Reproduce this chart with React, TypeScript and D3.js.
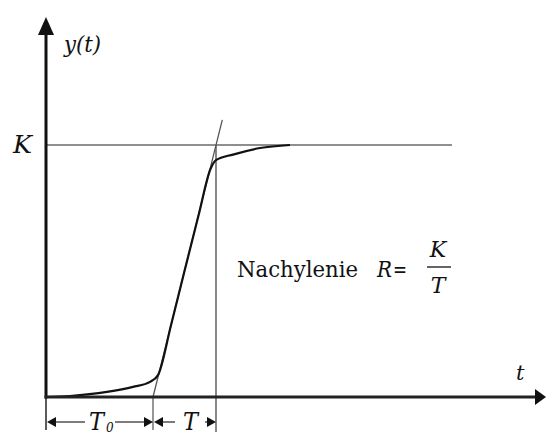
import React from "react";
import * as d3 from "d3";

// Step response of a first-order lag with dead time (normalised: K = 1)
const gainK = 1;
const deadTimeT0 = 2.14;
const timeConstT = 1.26;
const tMax = 10;

// Response curve samples [t, y]
const responseT = [0, 0.48, 1.22, 1.74, 2.08, 2.24, 2.5, 2.77, 3.05, 3.29, 3.4, 3.74, 4.28, 4.88];
const responseY = [0, 0.004, 0.02, 0.04, 0.06, 0.087, 0.285, 0.5, 0.72, 0.905, 0.94, 0.962, 0.988, 1.0];

const kLineEnd = 8.12; // t where the K reference line stops
const tangentTop = 1.1; // y value where the tangent line stops

const W = 546;
const H = 436;

const serif = '"DejaVu Serif", serif';

export default function App() {
  const x = d3.scaleLinear().domain([0, tMax]).range([46, 546]);
  const y = d3.scaleLinear().domain([0, gainK]).range([397, 145]);

  const pts: [number, number][] = responseT.map((t, i) => [t, responseY[i]]);
  const line = d3
    .line<[number, number]>()
    .x((d) => x(d[0]))
    .y((d) => y(d[1]))
    .curve(d3.curveMonotoneX);

  const x0 = x(0);
  const xT0 = x(deadTimeT0);
  const xT = x(deadTimeT0 + timeConstT);
  const tangentAt = (v: number) => x(deadTimeT0 + v * timeConstT);

  const dimY = 422;

  const arrowL = (tip: number) => `M${tip},${dimY} L${tip + 9},${dimY - 5} L${tip + 9},${dimY + 5} Z`;
  const arrowR = (tip: number) => `M${tip},${dimY} L${tip - 9},${dimY - 5} L${tip - 9},${dimY + 5} Z`;

  const txt = (size: number, italic = false): React.CSSProperties => ({
    fontFamily: serif,
    fontSize: size,
    fontStyle: italic ? "italic" : "normal",
  });

  return (
    <svg
      width={W}
      height={H}
      style={{ position: "absolute", left: 0, top: 0, background: "#fff" }}
    >
      {/* K reference line */}
      <line x1={x0} x2={x(kLineEnd)} y1={y(gainK)} y2={y(gainK)} stroke="#6a6a6a" strokeWidth={1.6} />
      {/* vertical at T0 + T */}
      <line x1={xT} x2={xT} y1={y(gainK)} y2={432} stroke="#6a6a6a" strokeWidth={1.6} />
      {/* tick at T0 */}
      <line x1={xT0} x2={xT0} y1={y(0)} y2={430} stroke="#6a6a6a" strokeWidth={1.4} />
      {/* tick at origin */}
      <line x1={x0} x2={x0} y1={y(0)} y2={430} stroke="#333" strokeWidth={1.6} />

      {/* tangent line */}
      <line
        x1={tangentAt(0)}
        y1={y(0)}
        x2={tangentAt(tangentTop)}
        y2={y(tangentTop)}
        stroke="#555"
        strokeWidth={1.3}
      />

      {/* response curve */}
      <path d={line(pts) ?? ""} fill="none" stroke="#111" strokeWidth={2.2} />

      {/* axes */}
      <line x1={x0} x2={x0} y1={y(0) + 1.5} y2={32} stroke="#111" strokeWidth={3} />
      <path d={`M${x0},17 L${x0 - 8},35 L${x0 + 8},35 Z`} fill="#111" />
      <line x1={x0 - 1.5} x2={536} y1={y(0)} y2={y(0)} stroke="#222" strokeWidth={3} />
      <path d={`M546,${y(0)} L535,${y(0) - 8} L535,${y(0) + 8} Z`} fill="#111" />

      {/* dimension lines */}
      <g stroke="#444" strokeWidth={1.4}>
        <line x1={x0 + 8} x2={85} y1={dimY} y2={dimY} />
        <line x1={115} x2={xT0 - 8} y1={dimY} y2={dimY} />
        <line x1={xT0 + 8} x2={175} y1={dimY} y2={dimY} />
        <line x1={205} x2={xT - 8} y1={dimY} y2={dimY} />
      </g>
      <g fill="#111">
        <path d={arrowL(x0 + 1)} />
        <path d={arrowR(xT0)} />
        <path d={arrowL(xT0 + 1)} />
        <path d={arrowR(xT)} />
      </g>

      {/* labels */}
      <text x={64} y={52} style={txt(22, true)} fill="#111" textLength={37} lengthAdjust="spacingAndGlyphs">y(t)</text>
      <text x={13} y={153} style={txt(24, true)} fill="#111" textLength={19} lengthAdjust="spacingAndGlyphs">K</text>
      <text x={516} y={380} style={txt(21, true)} fill="#111">t</text>
      <text x={89} y={430} style={txt(24, true)} fill="#111" textLength={15} lengthAdjust="spacingAndGlyphs">T</text>
      <text x={106} y={432} style={txt(12, true)} fill="#111">0</text>
      <text x={183} y={430} style={txt(24, true)} fill="#111" textLength={15} lengthAdjust="spacingAndGlyphs">T</text>

      <text x={237} y={277} style={txt(23)} fill="#111" textLength={121} lengthAdjust="spacingAndGlyphs">Nachylenie</text>
      <text x={377} y={277} style={txt(23, true)} fill="#111" textLength={15} lengthAdjust="spacingAndGlyphs">R</text>
      <text x={393} y={277} style={txt(23)} fill="#111" textLength={14} lengthAdjust="spacingAndGlyphs">=</text>
      <text x={438} y={257} style={txt(22, true)} fill="#111" textAnchor="middle">K</text>
      <line x1={427} x2={451} y1={267} y2={267} stroke="#111" strokeWidth={1.3} />
      <text x={438} y={293} style={txt(22, true)} fill="#111" textAnchor="middle">T</text>
    </svg>
  );
}
